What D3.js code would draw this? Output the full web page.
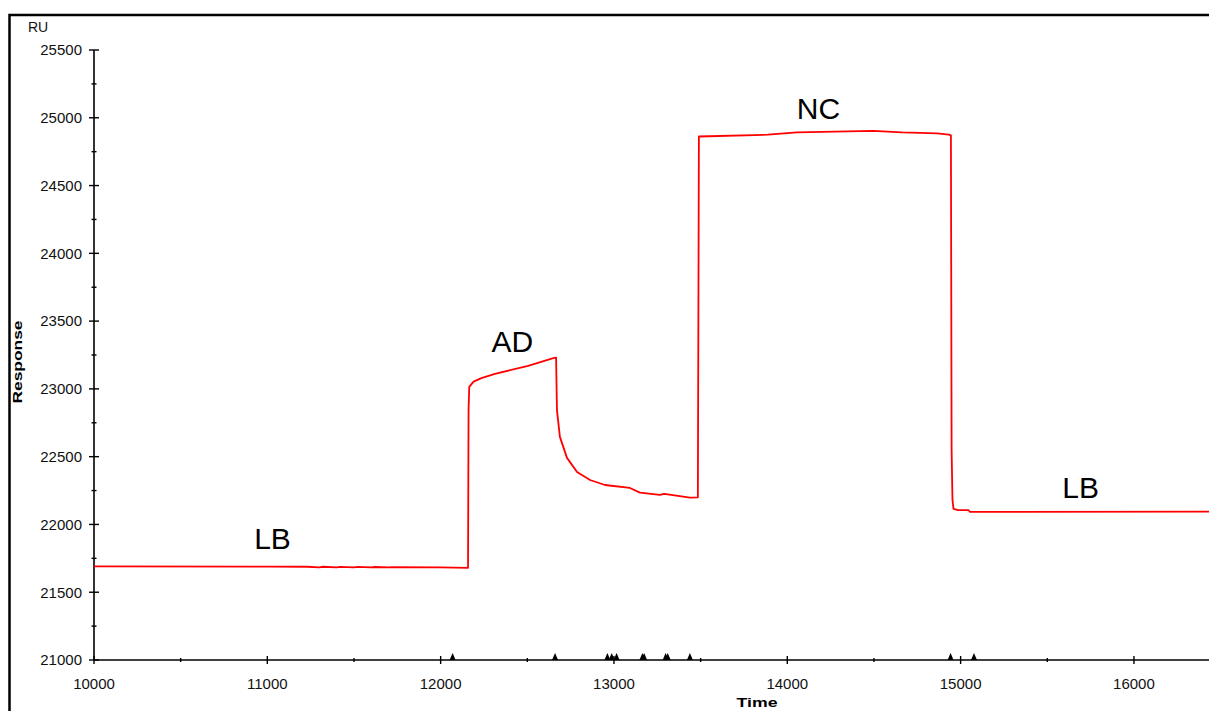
<!DOCTYPE html>
<html>
<head>
<meta charset="utf-8">
<script src="https://cdn.jsdelivr.net/npm/d3@7"></script>
<style>
  html, body { margin: 0; padding: 0; background: #ffffff; overflow: hidden; }
  svg { display: block; }
</style>
</head>
<body>
<svg id="chart" width="1209" height="711"></svg>
<script>
// ---- data ----
const timeValues = [
  10000, 11000, 11230, 11300, 11320, 11400, 11420, 11500, 11520, 11600, 11620, 11700, 11720, 12000, 12158,
  12161, 12165, 12190, 12235, 12313, 12505, 12650, 12666,
  12671, 12688, 12729, 12787, 12862, 12948, 13092, 13150, 13265, 13290, 13369, 13438, 13484,
  13490, 13888, 14056, 14494, 14662, 14864, 14933, 14944,
  14948, 14953, 14959, 14985, 15046, 15054, 16433
];
const responseValues = [
  21690, 21689, 21688, 21684, 21688, 21683, 21687, 21684, 21687, 21683, 21686, 21684, 21685, 21683, 21680,
  22840, 23015, 23054, 23079, 23111, 23170, 23227, 23230,
  22845, 22646, 22491, 22387, 22328, 22291, 22269, 22235, 22218, 22226, 22210, 22198, 22200,
  24862, 24875, 24892, 24904, 24892, 24885, 24875, 24870,
  22550, 22181, 22115, 22105, 22105, 22092, 22095
];
const injectionMarks = [12069, 12660, 12962, 12987, 13015, 13164, 13174, 13298, 13310, 13438, 14942, 15077];
const xTickValues = [10000, 11000, 12000, 13000, 14000, 15000, 16000];
const xMinorTicks = [10500, 11500, 12500, 13500, 14500, 15500];
const yTickValues = [21000, 21500, 22000, 22500, 23000, 23500, 24000, 24500, 25000, 25500];
const yMinorTicks = [21250, 21750, 22250, 22750, 23250, 23750, 24250, 24750, 25250];
const annotationLabels = ["LB", "AD", "NC", "LB"];
const annotationTimes = [11030, 12414, 14180, 15692];
const annotationResponses = [21690, 23230, 24910, 22100];

// ---- layout ----
const svg = d3.select("#chart");
const W = 1209, H = 711;
const x = d3.scaleLinear().domain([10000, 16433]).range([94, 1209]);
const y = d3.scaleLinear().domain([21000, 25500]).range([660, 50]);

// outer frame
svg.append("rect").attr("x", 0).attr("y", 0).attr("width", W).attr("height", H).attr("fill", "#fff");
svg.append("path")
  .attr("d", `M9.5,${H + 5} L9.5,15 L${W + 5},15`)
  .attr("fill", "none").attr("stroke", "#000").attr("stroke-width", 2.5);

const fontTick = "'Liberation Sans', Arial, sans-serif";

// y axis
svg.append("line").attr("x1", x(10000)).attr("x2", x(10000)).attr("y1", y(25500)).attr("y2", y(21000))
  .attr("stroke", "#000").attr("stroke-width", 1.6);
svg.append("g").selectAll("line").data(yTickValues).join("line")
  .attr("x1", x(10000) - 5).attr("x2", x(10000) + 5)
  .attr("y1", d => y(d)).attr("y2", d => y(d))
  .attr("stroke", "#000").attr("stroke-width", 1.4);
svg.append("g").selectAll("line").data(yMinorTicks).join("line")
  .attr("x1", x(10000) - 2.5).attr("x2", x(10000) + 2.5)
  .attr("y1", d => y(d)).attr("y2", d => y(d))
  .attr("stroke", "#000").attr("stroke-width", 1.4);
svg.append("g").selectAll("text").data(yTickValues).join("text")
  .attr("x", 82).attr("y", d => y(d) + 5.3)
  .attr("text-anchor", "end")
  .attr("font-family", fontTick).attr("font-size", 15).attr("fill", "#111")
  .text(d => d);

// x axis
svg.append("line").attr("x1", x(10000)).attr("x2", W).attr("y1", y(21000)).attr("y2", y(21000))
  .attr("stroke", "#000").attr("stroke-width", 1.6);
svg.append("g").selectAll("line").data(xTickValues).join("line")
  .attr("x1", d => x(d)).attr("x2", d => x(d))
  .attr("y1", y(21000) - 4).attr("y2", y(21000) + 4)
  .attr("stroke", "#000").attr("stroke-width", 1.4);
svg.append("g").selectAll("line").data(xMinorTicks).join("line")
  .attr("x1", d => x(d)).attr("x2", d => x(d))
  .attr("y1", y(21000) - 2).attr("y2", y(21000) + 2)
  .attr("stroke", "#000").attr("stroke-width", 1.4);
svg.append("g").selectAll("text").data(xTickValues).join("text")
  .attr("x", d => x(d)).attr("y", 688.5)
  .attr("text-anchor", "middle")
  .attr("font-family", fontTick).attr("font-size", 15).attr("fill", "#111")
  .text(d => d);

// axis titles
svg.append("text").attr("x", 28).attr("y", 32)
  .attr("font-family", fontTick).attr("font-size", 14).attr("fill", "#111").text("RU");
svg.append("text")
  .attr("transform", "translate(22,362) rotate(-90)")
  .attr("text-anchor", "middle")
  .attr("font-family", fontTick).attr("font-size", 13).attr("font-weight", "bold")
  .attr("textLength", 83).attr("lengthAdjust", "spacingAndGlyphs")
  .attr("fill", "#000").text("Response");
svg.append("text")
  .attr("x", 757).attr("y", 707)
  .attr("text-anchor", "middle")
  .attr("font-family", fontTick).attr("font-size", 13).attr("font-weight", "bold")
  .attr("textLength", 41).attr("lengthAdjust", "spacingAndGlyphs")
  .attr("fill", "#000").text("Time");

// injection markers
svg.append("g").selectAll("path").data(injectionMarks).join("path")
  .attr("d", d => {
    const cx = x(d), by = y(21000);
    return `M${cx - 3},${by} L${cx},${by - 7} L${cx + 3},${by} Z`;
  })
  .attr("fill", "#000");

// sensorgram
const pts = timeValues.map((t, i) => [t, responseValues[i]]);
const line = d3.line().x(d => x(d[0])).y(d => y(d[1])).curve(d3.curveLinear);
svg.append("path").datum(pts)
  .attr("d", line)
  .attr("fill", "none").attr("stroke", "#ff0000").attr("stroke-width", 1.8)
  .attr("stroke-linejoin", "round");

// annotations
const annOffsets = [-17, -6, -11, -13];
svg.append("g").selectAll("text").data(annotationLabels).join("text")
  .attr("x", (d, i) => x(annotationTimes[i]))
  .attr("y", (d, i) => y(annotationResponses[i]) + annOffsets[i])
  .attr("text-anchor", "middle")
  .attr("font-family", fontTick).attr("font-size", 30).attr("fill", "#000")
  .text(d => d);
</script>
</body>
</html>
